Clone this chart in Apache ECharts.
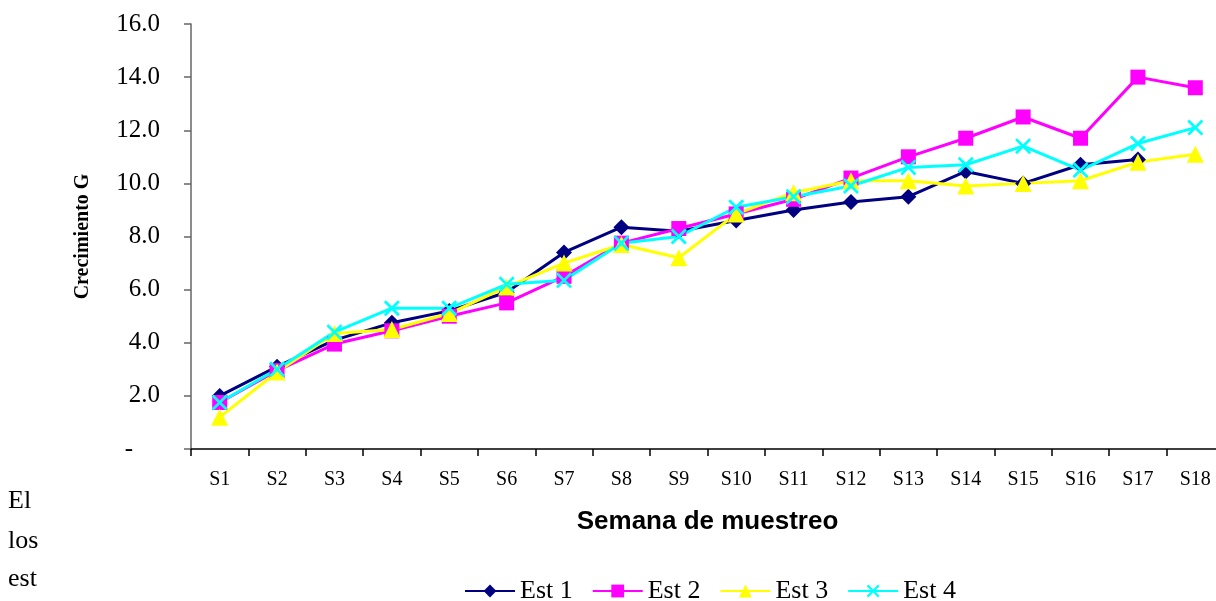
<!DOCTYPE html>
<html>
<head>
<meta charset="utf-8">
<script src="https://cdn.jsdelivr.net/npm/echarts@6/dist/echarts.min.js"></script>
<style>
html,body{margin:0;padding:0;background:#fff;overflow:hidden;width:1216px;height:601px;}
#c{width:1230px;height:601px;}
</style>
</head>
<body>
<div id="c"></div>
<script>
const categories = ['S1','S2','S3','S4','S5','S6','S7','S8','S9','S10','S11','S12','S13','S14','S15','S16','S17','S18'];
const est1 = [2.0, 3.1, 4.1, 4.75, 5.2, 5.9, 7.4, 8.35, 8.2, 8.6, 9.0, 9.3, 9.5, 10.45, 10.0, 10.7, 10.9, null];
const est2 = [1.75, 2.95, 3.95, 4.45, 5.0, 5.5, 6.5, 7.75, 8.3, 8.85, 9.4, 10.2, 11.0, 11.7, 12.5, 11.7, 14.0, 13.6];
const est3 = [1.2, 2.9, 4.35, 4.5, 5.1, 6.1, 7.0, 7.7, 7.2, 8.85, 9.65, 10.1, 10.1, 9.9, 10.0, 10.1, 10.8, 11.1];
const est4 = [1.75, 3.0, 4.4, 5.3, 5.3, 6.2, 6.35, 7.75, 8.0, 9.1, 9.5, 9.9, 10.6, 10.7, 11.4, 10.5, 11.5, 12.1];
const seriesNames = ['Est 1','Est 2','Est 3','Est 4'];
const yTicks = [0, 2, 4, 6, 8, 10, 12, 14, 16];

const colors = ['#000080', '#FF00FF', '#FFFF00', '#00FFFF'];
const crossPath = 'path://M0,1.2L1.2,0L5,3.8L8.8,0L10,1.2L6.2,5L10,8.8L8.8,10L5,6.2L1.2,10L0,8.8L3.8,5Z';
const symbols = ['diamond', 'rect', 'triangle', crossPath];
const sizes = [16, 15, 17, 16];
const datas = [est1, est2, est3, est4];
const serif = '"Liberation Serif", "Times New Roman", serif';

const chart = echarts.init(document.getElementById('c'), null, {renderer: 'canvas'});
chart.setOption({
  backgroundColor: '#fff',
  animation: false,
  grid: {left: 191, top: 24, width: 1033, height: 425, containLabel: false},
  legend: {
    left: 459,
    top: 573,
    itemWidth: 50,
    itemHeight: 16,
    itemGap: 19,
    textStyle: {fontFamily: serif, fontSize: 26, color: '#000'},
    data: seriesNames
  },
  xAxis: {
    type: 'category',
    data: categories,
    boundaryGap: true,
    name: 'Semana de muestreo',
    nameLocation: 'middle',
    nameGap: 60,
    nameTextStyle: {fontFamily: '"Liberation Sans", Arial, sans-serif', fontWeight: 'bold', fontSize: 26, color: '#000'},
    axisLine: {lineStyle: {color: '#000', width: 1.5}},
    axisTick: {show: true, alignWithLabel: false, length: 7, lineStyle: {color: '#000', width: 1.5}},
    axisLabel: {fontFamily: serif, fontSize: 20, color: '#000', margin: 21, interval: 0},
    splitLine: {show: false}
  },
  yAxis: {
    type: 'value',
    min: 0,
    max: 16,
    interval: 2,
    name: 'Crecimiento G',
    nameLocation: 'middle',
    nameGap: 98,
    nameRotate: 90,
    nameTextStyle: {fontFamily: serif, fontWeight: 'bold', fontSize: 20, color: '#000'},
    axisLine: {show: true, lineStyle: {color: '#666', width: 1.5}},
    axisTick: {show: true, length: 7, lineStyle: {color: '#666', width: 1.5}},
    axisLabel: {
      fontFamily: serif, fontSize: 25, color: '#000', margin: 31,
      formatter: function (v) { return v === 0 ? '{d|-}' : v.toFixed(1); },
      rich: {d: {fontFamily: serif, fontSize: 25, color: '#000', padding: [0, 27, 0, 0]}}
    },
    splitLine: {show: false}
  },
  series: datas.map((d, i) => ({
    name: seriesNames[i],
    type: 'line',
    data: d,
    symbol: symbols[i],
    symbolSize: sizes[i],
    connectNulls: false,
    lineStyle: {color: colors[i], width: 3},
    itemStyle: {color: colors[i], borderColor: colors[i], borderWidth: 0},
    emphasis: {disabled: true}
  })),
  graphic: [
    {type: 'text', left: 8, top: 488, style: {text: 'El', font: '26px ' + serif, fill: '#000'}},
    {type: 'text', left: 8, top: 528, style: {text: 'los', font: '26px ' + serif, fill: '#000'}},
    {type: 'text', left: 8, top: 566, style: {text: 'est', font: '26px ' + serif, fill: '#000'}}
  ]
});
</script>
</body>
</html>
